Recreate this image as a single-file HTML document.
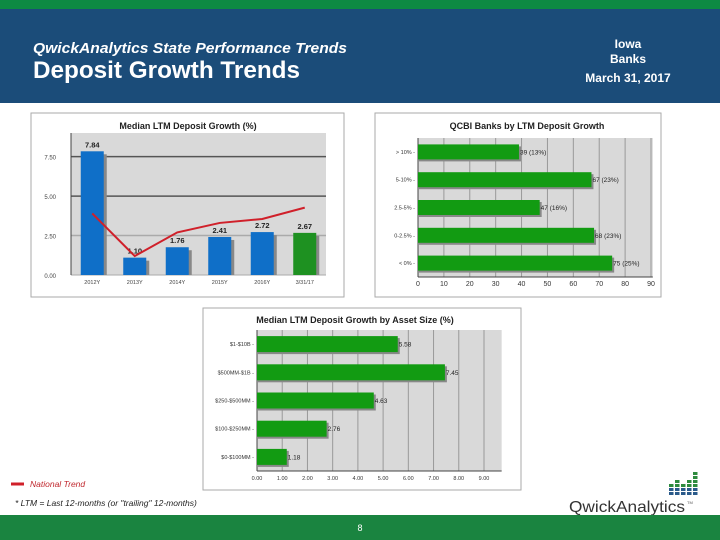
<!DOCTYPE html>
<html><head><meta charset="utf-8"><style>
body{margin:0;width:720px;height:540px;overflow:hidden;background:#fff;font-family:"Liberation Sans",sans-serif}
svg{display:block}
</style></head><body>
<svg id="s" width="720" height="540" xmlns="http://www.w3.org/2000/svg" font-family="Liberation Sans, sans-serif">
<rect x="0" y="0" width="720" height="9" fill="#0d8a43"/>
<rect x="0" y="9" width="720" height="94" fill="#1b4c79"/>
<text x="33" y="53" fill="#fff" font-size="15" font-weight="bold" font-style="italic" textLength="314" lengthAdjust="spacingAndGlyphs">QwickAnalytics State Performance Trends</text>
<text x="33" y="78" fill="#fff" font-size="24" font-weight="bold" textLength="267" lengthAdjust="spacingAndGlyphs">Deposit Growth Trends</text>
<text x="628" y="48" fill="#fff" font-size="12" font-weight="bold" text-anchor="middle">Iowa</text>
<text x="628" y="63" fill="#fff" font-size="12" font-weight="bold" text-anchor="middle">Banks</text>
<text x="628" y="82" fill="#fff" font-size="12" font-weight="bold" text-anchor="middle">March 31, 2017</text>

<rect x="31" y="113" width="313" height="184" fill="#fff" stroke="#aaa"/>
<rect x="375" y="113" width="286" height="184" fill="#fff" stroke="#aaa"/>
<rect x="203" y="308" width="318" height="182" fill="#fff" stroke="#aaa"/>
<g id="c1"></g><g id="c2"></g><g id="c3"></g>

<line x1="11" y1="484" x2="24" y2="484" stroke="#d0202a" stroke-width="3"/>
<text x="30" y="487" fill="#c0282e" font-size="8.5" font-style="italic">National Trend</text>
<text x="15" y="506" fill="#222" font-size="8.5" font-style="italic">* LTM = Last 12-months (or "trailing" 12-months)</text>
<g id="logo"></g>
<text x="569" y="512" fill="#333" font-size="16" textLength="116" lengthAdjust="spacingAndGlyphs">QwickAnalytics</text>
<text x="687" y="504" fill="#555" font-size="4">TM</text>
<rect x="0" y="515" width="720" height="25" fill="#1a8440"/>
<text x="360" y="531" fill="#fff" font-size="9" text-anchor="middle">8</text>
</svg>
<script>
const NS="http://www.w3.org/2000/svg";
function mk(p,t,a){const e=document.createElementNS(NS,t);for(const k in a)e.setAttribute(k,a[k]);p.appendChild(e);return e;}

// Chart 1 data
const c1Cats=["2012Y","2013Y","2014Y","2015Y","2016Y","3/31/17"];
const c1Vals=[7.84,1.10,1.76,2.41,2.72,2.67];
const c1Labels=["7.84","1.10","1.76","2.41","2.72","2.67"];
const c1National=[3.9,1.2,2.7,3.3,3.55,4.27];
const c1Ticks=[0,2.5,5,7.5];
const c1TickLabels=["0.00","2.50","5.00","7.50"];
// Chart 2 data
const c2Cats=["> 10%","5-10%","2.5-5%","0-2.5%","< 0%"];
const c2Vals=[39,67,47,68,75];
const c2Labels=["39 (13%)","67 (23%)","47 (16%)","68 (23%)","75 (25%)"];
const c2Ticks=[0,10,20,30,40,50,60,70,80,90];
// Chart 3 data
const c3Cats=["$1-$10B","$500MM-$1B","$250-$500MM","$100-$250MM","$0-$100MM"];
const c3Vals=[5.58,7.45,4.63,2.76,1.18];
const c3Labels=["5.58","7.45","4.63","2.76","1.18"];
const c3Ticks=[0,1,2,3,4,5,6,7,8,9];
const c3TickLabels=["0.00","1.00","2.00","3.00","4.00","5.00","6.00","7.00","8.00","9.00"];

// Chart 1
(function(){
const g=document.getElementById('c1');
const L=60+11,R=326,T=133,B=275,max=9;
const y=v=>B-(v/max)*(B-T);
const band=(R-L)/c1Cats.length;
const x=i=>L+band*(i+0.5);
let e=mk(g,'text',{x:188,y:129,'font-size':9,'font-weight':'bold','text-anchor':'middle',fill:'#222'});e.textContent='Median LTM Deposit Growth (%)';


e=mk(g,'rect',{x:L,y:T,width:R-L,height:B-T,fill:'#d9d9d9'});


c1Ticks.forEach((t,i)=>{
 e=mk(g,'line',{x1:L,x2:R,y1:y(t),y2:y(t),stroke:i==3||i==2?'#555':'#aaa','stroke-width':i==0?1:1.5});
 
 
 e=mk(g,'text',{x:L-15,y:y(t)+3,'font-size':6,'text-anchor':'end',fill:'#444'});e.textContent=c1TickLabels[i];
 
 
});
mk(g,'line',{x1:L,x2:L,y1:T,y2:B,stroke:'#444'});
c1Vals.forEach((v,i)=>{
 const w=23,cx=x(i);
 e=mk(g,'rect',{x:cx-w/2+3,y:y(v)+3,width:w,height:B-y(v)-3,fill:'#888'});
 
 
 e=mk(g,'rect',{x:cx-w/2,y:y(v),width:w,height:B-y(v),fill:i==5?'#1e9121':'#0f6fc8'});
 
 
 e=mk(g,'text',{x:cx,y:y(v)-4,'font-size':7.5,'font-weight':'bold','text-anchor':'middle',fill:'#222'});e.textContent=c1Labels[i];
 
 
 e=mk(g,'text',{x:cx,y:B+9,'font-size':5.5,'text-anchor':'middle',fill:'#444'});e.textContent=c1Cats[i];
 
 
});
e=mk(g,'polyline',{points:c1National.map((v,i)=>x(i)+','+y(v)).join(' '),fill:'none',stroke:'#d0202a','stroke-width':2});


})();

// Horizontal bar chart helper
function hbar(id,pfx,title,tx,ty,L,R,T,B,max,cats,vals,labels,ticks,tickLabels,bh){
const g=document.getElementById(id);
const x=v=>L+(v/max)*(R-L);
const band=(B-T)/cats.length;
const yc=i=>T+band*(i+0.5);
let e=mk(g,'text',{x:tx,y:ty,'font-size':9,'font-weight':'bold','text-anchor':'middle',fill:'#222'});e.textContent=title;


e=mk(g,'rect',{x:L,y:T,width:x(ticks[ticks.length-1])-L+((R-L)/max)*0.7,height:B-T,fill:'#d9d9d9'});


ticks.forEach((t,i)=>{
 e=mk(g,'line',{x1:x(t),x2:x(t),y1:T,y2:B,stroke:'#999'});
 
 
 e=mk(g,'text',{x:x(t),y:B+9,'font-size':pfx=='chart2'?7:5.5,'text-anchor':'middle',fill:'#333'});e.textContent=tickLabels[i];
 
 
});
mk(g,'line',{x1:L,x2:L,y1:T,y2:B,stroke:'#444'});
mk(g,'line',{x1:L,x2:x(ticks[ticks.length-1])+((R-L)/max)*0.7,y1:B,y2:B,stroke:'#444'});
vals.forEach((v,i)=>{
 const c=yc(i);
 e=mk(g,'rect',{x:L,y:c-bh/2+2,width:x(v)-L+2,height:bh,fill:'#888'});
 
 
 e=mk(g,'rect',{x:L,y:c-bh/2,width:x(v)-L,height:bh,fill:'#129b12'});
 
 
 e=mk(g,'text',{x:x(v)+1,y:c+2.5,'font-size':6.5,fill:'#222'});e.textContent=labels[i];
 
 
 e=mk(g,'text',{x:L-3,y:c+2,'font-size':5.5,'text-anchor':'end',fill:'#333'});e.textContent=cats[i]+' -';
 
 
});
}
hbar('c2','chart2','QCBI Banks by LTM Deposit Growth',527,129,418,651,138,277,90,c2Cats,c2Vals,c2Labels,c2Ticks,c2Ticks.map(String),15);
hbar('c3','chart3','Median LTM Deposit Growth by Asset Size (%)',355,323,257,484,330,471,9,c3Cats,c3Vals,c3Labels,c3Ticks,c3TickLabels,16);

// logo bars
(function(){
const g=document.getElementById('logo');
const heights=[3,4,3,4,6];
for(let c=0;c<5;c++){for(let r=0;r<heights[c];r++){
 const e=mk(g,'rect',{x:669+c*6,y:492-r*4,width:4.5,height:3,fill:r<2?'#2a5a8a':'#2e8b3e'});
 
 
}}
})();
</script>
</body></html>
